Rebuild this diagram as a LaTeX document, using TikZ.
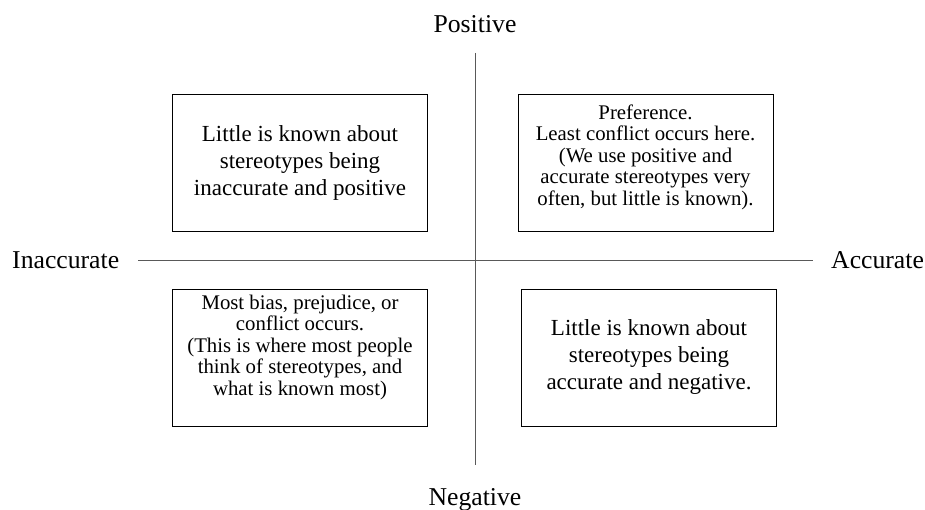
\documentclass[tikz,border=0pt]{standalone}
\usepackage{fontspec}
\setmainfont{Liberation Serif}

\tikzset{
	axis/.style={draw=black!65, line width=0.8pt},
	quad/.style={draw, line width=0.9pt, minimum width=255pt, minimum height=137pt, inner sep=0pt},
	axlabel/.style={inner sep=0pt, font=\fontsize{25.7}{30}\selectfont},
	bigtxt/.style={align=center, inner sep=0pt, font=\fontsize{23}{27}\selectfont},
	smalltxt/.style={align=center, inner sep=0pt, font=\fontsize{20.8}{21.5}\selectfont},
}

\begin{document}
\begin{tikzpicture}[x=1pt,y=-1pt]
	\useasboundingbox (0,0) rectangle (925,510);

	\coordinate (north) at (475,53);
	\coordinate (south) at (475,465);
	\coordinate (west) at (138,260);
	\coordinate (east) at (813,260);
	\draw[axis] (north) -- (south);
	\draw[axis] (west) -- (east);

	\node[axlabel, anchor=base] (pos) at (475,33) {Positive};
	\node[axlabel, anchor=base] (neg) at (475,505) {Negative};
	\node[axlabel, anchor=base west] (inacc) at (12,269) {Inaccurate};
	\node[axlabel, anchor=base west] (acc) at (831,269) {Accurate};

	\node[quad] (tl) at (300,162.5) {};
	\node[bigtxt] (tltext) at (tl.center) {Little is known about\\stereotypes being\\inaccurate and positive};

	\node[quad] (tr) at (645.5,163) {};
	\node[smalltxt] (trtext) at (645.5,157) {Preference.\\Least conflict occurs here.\\(We use positive and\\accurate stereotypes very\\often, but little is known).};

	\node[quad] (bl) at (300,358) {};
	\node[smalltxt] (bltext) at (300,347) {Most bias, prejudice, or\\conflict occurs.\\(This is where most people\\think of stereotypes, and\\what is known most)};

	\node[quad] (br) at (649,358) {};
	\node[bigtxt] (brtext) at (649,357) {Little is known about\\stereotypes being\\accurate and negative.};
\end{tikzpicture}
\end{document}
